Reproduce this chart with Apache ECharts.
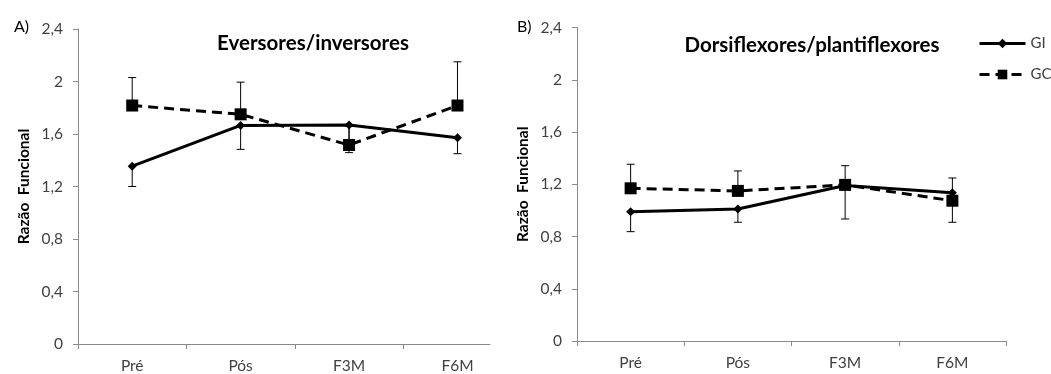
<!DOCTYPE html>
<html><head><meta charset="utf-8">
<script src="https://cdn.jsdelivr.net/npm/echarts@6/dist/echarts.min.js"></script>
<style>html,body{margin:0;padding:0;background:#fff}#c{width:1051px;height:374px}</style>
</head><body><div id="c"></div>
<script>
const categories = ['Pré', 'Pós', 'F3M', 'F6M'];
const yTicks = [0, 0.4, 0.8, 1.2, 1.6, 2, 2.4];
// Panel A: Eversores/inversores
const aGI = [1.355, 1.665, 1.668, 1.572];
const aGILow = [1.20, 1.483, 1.458, 1.45];
const aGC = [1.817, 1.75, 1.516, 1.817];
const aGCHigh = [2.03, 1.995, 1.66, 2.15];
// Panel B: Dorsiflexores/plantiflexores
const bGI = [0.99, 1.01, 1.19, 1.135];
const bGILow = [0.837, 0.909, 0.934, 0.909];
const bGC = [1.169, 1.149, 1.195, 1.074];
const bGCHigh = [1.353, 1.302, 1.342, 1.248];

const FONT = 'Lato';
const chart = echarts.init(document.getElementById('c'), null, {renderer: 'canvas'});

function pts(arr) { return arr.map((v, i) => [i, v]); }
function errs(vals, bounds) { return vals.map((v, i) => [i, v, bounds[i]]); }
function errRender(params, api) {
  const x = api.value(0), v = api.value(1), b = api.value(2);
  const p1 = api.coord([x, v]), p2 = api.coord([x, b]);
  const hw = 4;
  return {type: 'group', children: [
    {type: 'line', shape: {x1: p1[0], y1: p1[1], x2: p2[0], y2: p2[1]}, style: {stroke: '#000', lineWidth: 1}},
    {type: 'line', shape: {x1: p2[0] - hw, y1: p2[1], x2: p2[0] + hw, y2: p2[1]}, style: {stroke: '#000', lineWidth: 1}}
  ]};
}
const axisColor = '#8a8a8a';
function xAxis(gi, max, tickVals) {
  return {
    type: 'value', gridIndex: gi, min: -0.5, max: max,
    axisLine: {show: true, onZero: false, lineStyle: {color: axisColor, width: 1}},
    axisTick: {show: true, length: 5, lineStyle: {color: axisColor}, customValues: tickVals},
    axisLabel: {customValues: [0, 1, 2, 3], formatter: v => categories[Math.round(v)],
      color: '#404040', fontFamily: FONT, fontSize: 15.5, margin: 14},
    splitLine: {show: false}
  };
}
function yAxis(gi) {
  return {
    type: 'value', gridIndex: gi, min: yTicks[0], max: yTicks[yTicks.length - 1], interval: 0.4,
    name: 'Razão  Funcional', nameLocation: 'middle', nameGap: 46, nameRotate: 90,
    nameTextStyle: {fontFamily: FONT, fontWeight: 'bold', fontSize: 15.5, color: '#000'},
    axisLine: {show: true, onZero: false, lineStyle: {color: axisColor, width: 1}},
    axisTick: {show: true, length: 5, inside: false, lineStyle: {color: axisColor}},
    axisLabel: {formatter: v => String(+v.toFixed(1)).replace('.', ','), color: '#404040',
      fontFamily: FONT, fontSize: 15.5, margin: 15},
    splitLine: {show: false}
  };
}
function lineSeries(name, data, gi, dashed) {
  return {
    type: 'line', name: name, xAxisIndex: gi, yAxisIndex: gi, data: data, z: 3,
    symbol: dashed ? 'rect' : 'diamond', symbolSize: dashed ? 12 : 9,
    itemStyle: {color: '#000'},
    lineStyle: {color: '#000', width: 3, type: dashed ? [10, 6] : 'solid'},
    animation: false
  };
}
function errSeries(data, gi) {
  return {type: 'custom', xAxisIndex: gi, yAxisIndex: gi, data: data, renderItem: errRender, z: 2, animation: false, silent: true};
}

chart.setOption({
  backgroundColor: '#fff',
  animation: false,
  title: [
    {text: 'Eversores/inversores', left: 308, top: 28, textAlign: 'center',
      textStyle: {fontFamily: FONT, fontWeight: 'bold', fontSize: 20.5, color: '#000'}},
    {text: 'Dorsiflexores/plantiflexores', left: 807, top: 30, textAlign: 'center',
      textStyle: {fontFamily: FONT, fontWeight: 'bold', fontSize: 20.5, color: '#000'}},
    {text: 'A)', left: 9, top: 14, textStyle: {fontFamily: FONT, fontWeight: 'normal', fontSize: 16, color: '#000'}},
    {text: 'B)', left: 512, top: 14, textStyle: {fontFamily: FONT, fontWeight: 'normal', fontSize: 16, color: '#000'}}
  ],
  legend: {
    orient: 'vertical', left: 973, top: 31, itemWidth: 46, itemHeight: 12, itemGap: 16,
    data: ['GI', 'GC'],
    lineStyle: {width: 3},
    textStyle: {fontFamily: FONT, fontSize: 15, color: '#404040'}
  },
  grid: [
    {left: 78, top: 29, width: 412, height: 316},
    {left: 577, top: 27.5, width: 429, height: 313.5}
  ],
  xAxis: [xAxis(0, 3.3, [-0.5, 0.5, 1.5, 2.5]), xAxis(1, 3.5, [-0.5, 0.5, 1.5, 2.5, 3.5])],
  yAxis: [yAxis(0), yAxis(1)],
  series: [
    errSeries(errs(aGI, aGILow), 0),
    errSeries(errs(aGC, aGCHigh), 0),
    lineSeries('GI', pts(aGI), 0, false),
    lineSeries('GC', pts(aGC), 0, true),
    errSeries(errs(bGI, bGILow), 1),
    errSeries(errs(bGC, bGCHigh), 1),
    lineSeries('GI', pts(bGI), 1, false),
    lineSeries('GC', pts(bGC), 1, true)
  ]
});
</script></body></html>
